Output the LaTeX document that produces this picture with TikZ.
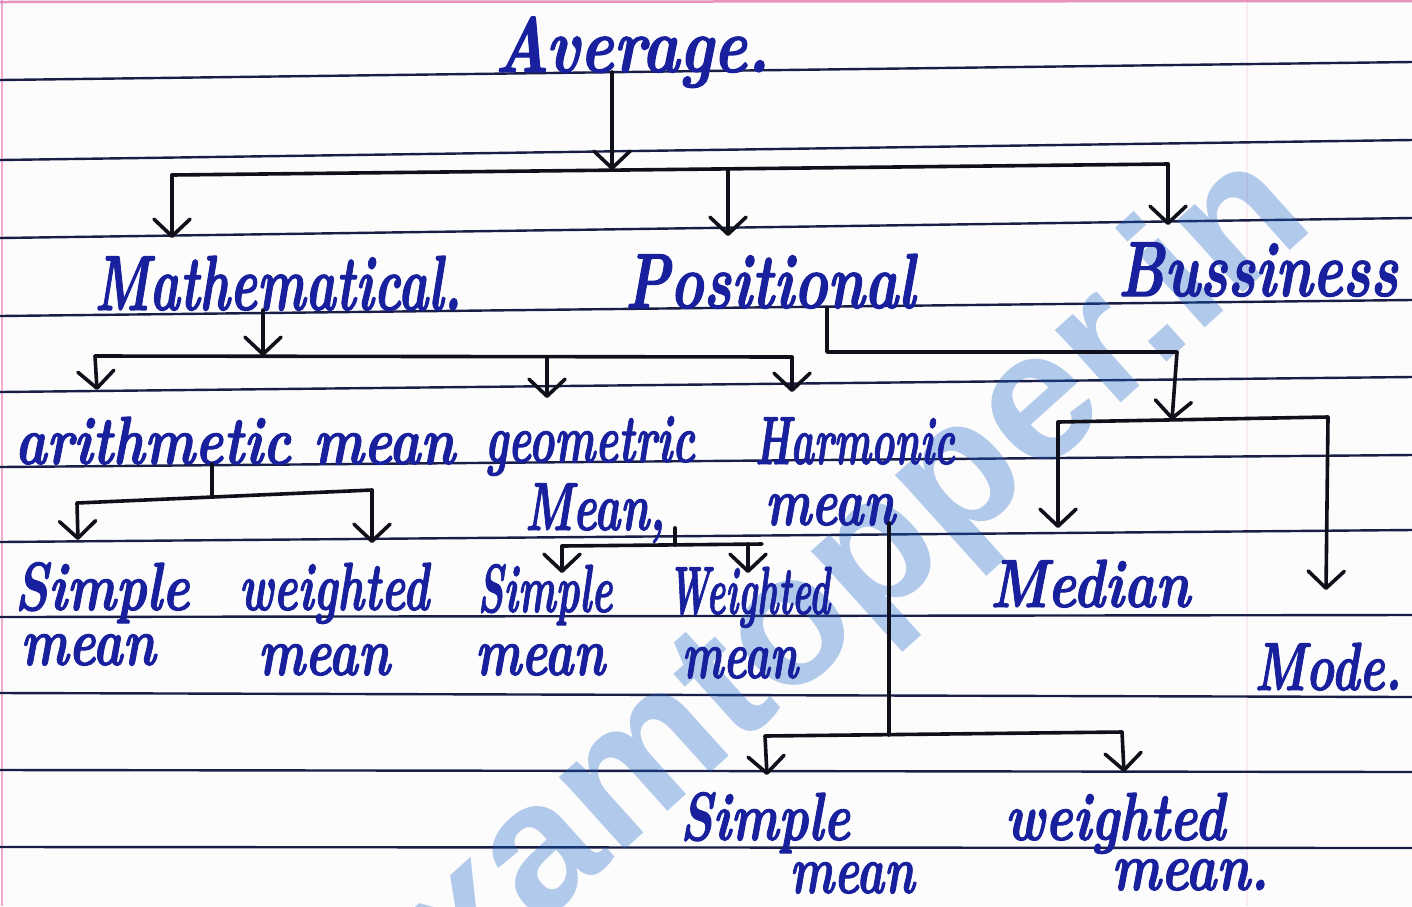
\documentclass[tikz,border=0pt]{standalone}
\usepackage{fontspec}
\usepackage{graphicx}
\usetikzlibrary{arrows.meta}
\newfontfamily\markfont{Liberation Sans}
\newfontfamily\handfont{Latin Modern Roman}[FakeBold=1.6]
\definecolor{paper}{RGB}{252,252,252}
\definecolor{ruling}{RGB}{24,30,70}
\definecolor{ink}{RGB}{24,32,158}
\definecolor{pen}{RGB}{16,16,26}
\definecolor{stamp}{RGB}{26,98,198}
\definecolor{marginpink}{RGB}{228,120,175}
% handwritten word squeezed or stretched to a given width, height kept
\newcommand{\hw}[2]{\resizebox{#1pt}{\height}{#2}}
\tikzset{
  ruled/.style={ruling, line width=2.4pt},
  link/.style={pen, line width=3.6pt, line cap=round, line join=round},
  arr/.style={link, -{Straight Barb[length=17pt,width=36pt,round]}},
  head/.style={text=ink, inner sep=0pt, anchor=base, font=\handfont\bfseries\itshape\fontsize{78}{80}\selectfont},
  word/.style={text=ink, inner sep=0pt, anchor=base, font=\handfont\bfseries\itshape\fontsize{68}{70}\selectfont},
}
\begin{document}
\begin{tikzpicture}[x=1pt,y=-1pt]
\fill[paper] (0,0) rectangle (1412,906);
\useasboundingbox (0,0) rectangle (1412,906);

\begin{scope}
\clip (0,0) rectangle (1412,906);
% notebook page: margin lines and ruling
\draw[marginpink, line width=2.5pt, opacity=.8] (0,2) -- (1412,1);
\draw[marginpink, line width=2pt, opacity=.6] (1.5,0) -- (1.5,906);
\draw[marginpink, line width=2pt, opacity=.12] (1247,0) -- (1247,906);
\foreach \l/\r in {80/62,160/140,238/218,316/300,392/377,467/455,542/530,617/615,693/697,770/772,847/848}
  \draw[ruled] (0,\l) -- (1412,\r);
% site stamp across the page
\node[stamp, opacity=.33, rotate=42, anchor=base east, inner sep=0pt,
      font=\markfont\bfseries\fontsize{185}{185}\selectfont] (sitemark) at (1318,226) {examtopper.in};
\end{scope}

% words
\node[head] (avg)  at (632,72)  {\hw{275}{Average.}};
\node[head] (math) at (278,310) {\hw{367}{Mathematical.}};
\node[head] (pos)  at (770,308) {\hw{290}{Positional}};
\node[head] (bus)  at (1258,296) {\hw{280}{Bussiness}};

\node[word] (arith) at (235,464) {\hw{440}{arithmetic mean}};
\node[word] (geoA)  at (590,462) {\hw{210}{geometric}};
\node[word] (geoB)  at (595,530) {\hw{140}{Mean,}};
\node[word] (harA)  at (855,464) {\hw{200}{Harmonic}};
\node[word] (harB)  at (830,525) {\hw{130}{mean}};

\node[word] (s1A) at (102,610) {\hw{175}{Simple}};
\node[word] (s1B) at (88,665)  {\hw{135}{mean}};
\node[word] (w1A) at (334,610) {\hw{190}{weighted}};
\node[word] (w1B) at (324,675) {\hw{132}{mean}};
\node[word] (s2A) at (545,612) {\hw{135}{Simple}};
\node[word] (s2B) at (540,675) {\hw{130}{mean}};
\node[word] (w2A) at (749,614) {\hw{162}{Weighted}};
\node[word] (w2B) at (740,678) {\hw{116}{mean}};

\node[word] (med)  at (1090,607) {\hw{200}{Median}};
\node[word] (mode) at (1328,690) {\hw{147}{Mode.}};

\node[word] (s3A) at (765,840)  {\hw{170}{Simple}};
\node[word] (s3B) at (852,893)  {\hw{125}{mean}};
\node[word] (w3A) at (1115,840) {\hw{220}{weighted}};
\node[word] (w3B) at (1190,890) {\hw{157}{mean.}};

% Average -> three kinds
\coordinate (t0) at (612,170);
\coordinate (t1) at (172,175);
\coordinate (t2) at (728,169);
\coordinate (t3) at (1168,164);
\coordinate (math-in) at (172,238);
\coordinate (pos-in)  at (728,236);
\coordinate (bus-in)  at (1168,225);
\draw[arr] (avg.base -| t0) -- (t0);
\draw[link] (t1) -- (t3);
\draw[arr] (t1) -- (math-in);
\draw[arr] (t2) -- (pos-in);
\draw[arr] (t3) -- (bus-in);

% Mathematical -> arithmetic, geometric, harmonic
\coordinate (m0) at (263,356);
\coordinate (m1) at (95,356);
\coordinate (m2) at (547,357);
\coordinate (m3) at (792,357);
\coordinate (arith-in) at (97,390);
\coordinate (geo-in)   at (547,398);
\coordinate (har-in)   at (792,392);
\draw[arr] (math.base -| m0) -- (m0);
\draw[link] (m1) -- (m3);
\draw[arr] (m1) -- (arith-in);
\draw[arr] (m2) -- (geo-in);
\draw[arr] (m3) -- (har-in);

% Positional -> median, mode
\coordinate (p0) at (827,352);
\coordinate (p1) at (1177,352);
\coordinate (pm-in) at (1172,420);
\coordinate (q1) at (1058,422);
\coordinate (q2) at (1328,417);
\coordinate (med-in)  at (1058,528);
\coordinate (mode-in) at (1326,590);
\draw[arr] (pos.base -| p0) -- (p0) -- (p1) -- (pm-in);
\draw[link] (q1) -- (q2);
\draw[arr] (q1) -- (med-in);
\draw[arr] (q2) -- (mode-in);

% arithmetic mean -> simple, weighted
\coordinate (a0) at (212,497);
\coordinate (a1) at (77,503);
\coordinate (a2) at (372,490);
\coordinate (s1-in) at (78,540);
\coordinate (w1-in) at (372,543);
\draw[link] (arith.base -| a0) -- (a0);
\draw[link] (a1) -- (a2);
\draw[arr] (a1) -- (s1-in);
\draw[arr] (a2) -- (w1-in);

% geometric mean -> simple, weighted
\coordinate (g0) at (675,545);
\coordinate (g1) at (562,546);
\coordinate (g2) at (748,544);
\coordinate (g3) at (762,544);
\coordinate (s2-in) at (562,573);
\coordinate (w2-in) at (748,573);
\draw[link] (geoB.mid -| g0) -- (g0);
\draw[link] (g1) -- (g3);
\draw[arr] (g1) -- (s2-in);
\draw[arr] (g2) -- (w2-in);

% harmonic mean -> simple, weighted
\coordinate (h0) at (889,735);
\coordinate (h1) at (765,736);
\coordinate (h2) at (1122,732);
\coordinate (s3-in) at (767,775);
\coordinate (w3-in) at (1124,772);
\draw[link] (harB.mid -| h0) -- (h0);
\draw[link] (h1) -- (h2);
\draw[arr] (h1) -- (s3-in);
\draw[arr] (h2) -- (w3-in);
\end{tikzpicture}
\end{document}
